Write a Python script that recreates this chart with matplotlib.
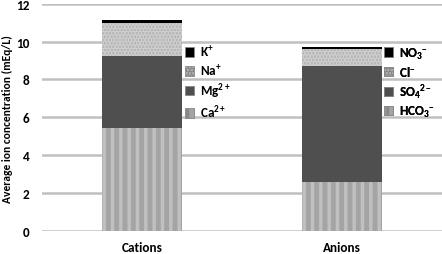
import matplotlib
matplotlib.use("Agg")
import matplotlib.pyplot as plt
import numpy as np

plt.rcParams['font.family'] = ['Carlito', 'DejaVu Sans']
plt.rcParams['font.weight'] = 'bold'
plt.rcParams['mathtext.fontset'] = 'custom'
plt.rcParams['mathtext.rm'] = 'Carlito:bold'
plt.rcParams['mathtext.it'] = 'Carlito:bold'
plt.rcParams['mathtext.bf'] = 'Carlito:bold'
plt.rcParams['mathtext.default'] = 'bf'
plt.rcParams['hatch.linewidth'] = 2.5

# datos (mEq/L)
categorias = ['Cations', 'Anions']
cationes = ['Ca$^{2+}$', 'Mg$^{2+}$', 'Na$^{+}$', 'K$^{+}$']
valores_cationes = [5.44, 3.80, 1.73, 0.17]
aniones = ['HCO$_3$$^{-}$', 'SO$_4$$^{2-}$', 'Cl$^{-}$', 'NO$_3$$^{-}$']
valores_aniones = [2.59, 6.14, 0.86, 0.14]
yticks = [0, 2, 4, 6, 8, 10, 12]

# estilo de cada capa (de abajo hacia arriba)
estilos = [
    dict(facecolor='#a4a4a4', edgecolor='#c0c0c0', hatch='||'),
    dict(facecolor='#4f4f4f', edgecolor='#4f4f4f', hatch=None),
    dict(facecolor='#b4b4b4', edgecolor='#cecece', hatch='.....'),
    dict(facecolor='#000000', edgecolor='#000000', hatch=None),
]

fig = plt.figure(figsize=(4.42, 2.55), dpi=100)
ax = fig.add_axes([41.7 / 442, 23 / 255, 400 / 442, 227.3 / 255])

x = np.arange(len(categorias))
grupos = [(0, valores_cationes, cationes), (1, valores_aniones, aniones)]
handles_por_grupo = []
for xi, vals, etiquetas in grupos:
    base = 0
    hs = []
    for v, lab, st in zip(vals, etiquetas, estilos):
        b = ax.bar(xi, v, width=0.4, bottom=base, linewidth=0, label=lab, **st)
        hs.append(b[0])
        base += v
    handles_por_grupo.append(hs)

ax.set_xlim(-0.5, 1.5)
ax.set_ylim(0, 12)
ax.set_yticks(yticks)
ax.set_xticks(x)
ax.set_xticklabels(categorias, fontsize=9.5, fontweight='bold')
for t in ax.get_yticklabels():
    t.set_fontweight('bold')
ax.tick_params(axis='both', length=0, labelsize=9.5)
ax.tick_params(axis='y', pad=9)
ax.tick_params(axis='x', pad=7)
ax.yaxis.grid(True, color='#c0c0c0', linewidth=1.8)
ax.set_axisbelow(True)
for s in ax.spines.values():
    s.set_visible(False)

# titulo del eje y, centrado a mano
fig.text(7.8 / 442, 1 - 119.5 / 255, 'Average ion concentration (mEq/L)',
         rotation=90, ha='center', va='center', fontsize=8.3, fontweight='bold')

posiciones = [(185, 83), (384, 83.5)]
for hs, etiquetas, (px, py) in zip(handles_por_grupo, [cationes, aniones], posiciones):
    leg = ax.legend(hs[::-1], etiquetas[::-1], loc='center left',
                    bbox_to_anchor=(px / 442, (255 - py) / 255),
                    bbox_transform=fig.transFigure, frameon=False,
                    prop={'family': 'Carlito', 'weight': 'bold', 'size': 9.5},
                    handlelength=0.7, handleheight=0.7,
                    handletextpad=0.45, labelspacing=0.27,
                    borderpad=0, borderaxespad=0)
    for p in leg.get_patches():
        p.set_linewidth(0.6)
        p.set_edgecolor('#888888')
    ax.add_artist(leg)

fig.savefig('out.png', dpi=100)
